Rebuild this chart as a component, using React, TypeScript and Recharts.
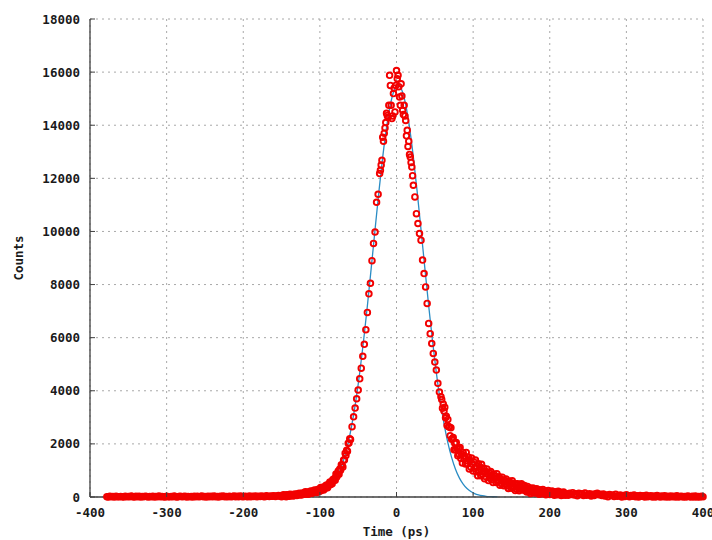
import { ComposedChart, Scatter, Line, XAxis, YAxis, CartesianGrid } from "recharts";

// measured histogram, split into regions (time in ps, counts per bin)
const baseTimes = [
  -378, -376, -374, -372, -370, -368, -366, -364, -362, -360, -358, -356, -354, -352, -350, -348, -346, -344, -342, -340,
  -338, -336, -334, -332, -330, -328, -326, -324, -322, -320, -318, -316, -314, -312, -310, -308, -306, -304, -302, -300,
  -298, -296, -294, -292, -290, -288, -286, -284, -282, -280, -278, -276, -274, -272, -270, -268, -266, -264, -262, -260,
  -258, -256, -254, -252, -250, -248, -246, -244, -242, -240, -238, -236, -234, -232, -230, -228, -226, -224, -222, -220,
  -218, -216, -214, -212, -210, -208, -206, -204, -202, -200, -198, -196, -194, -192, -190, -188, -186, -184, -182, -180,
  -178, -176, -174, -172, -170, -168, -166, -164, -162, -160, -158, -156, -154, -152,
];
const baseCounts = [
  12, 3, 25, 8, 17, 0, 30, 11, 5, 22, 14, 2, 27, 9, 19, 6, 33, 13, 1, 24,
  10, 28, 4, 18, 7, 31, 15, 0, 21, 12, 26, 3, 16, 9, 34, 6, 20, 11, 2, 29,
  14, 5, 23, 8, 36, 12, 1, 19, 27, 7, 15, 32, 4, 22, 10, 17, 3, 28, 13, 25,
  6, 20, 35, 9, 16, 2, 30, 14, 24, 7, 38, 11, 19, 4, 27, 15, 33, 8, 22, 13,
  29, 5, 18, 40, 12, 25, 9, 34, 17, 6, 31, 21, 14, 37, 10, 26, 19, 42, 8, 28,
  16, 35, 22, 11, 44, 27, 18, 39, 25, 48, 20, 33, 52, 29,
];

const footTimes = [
  -151, -150, -149, -148, -147, -146, -145, -144, -143, -142, -141, -140, -139, -138, -137, -136, -135, -134, -133, -132,
  -131, -130, -129, -128, -127, -126, -125, -124, -123, -122, -121, -120, -119, -118, -117, -116, -115, -114, -113, -112,
  -111, -110, -109, -108, -107, -106, -105, -104, -103, -102, -101, -100, -99, -98, -97, -96, -95, -94, -93, -92,
  -91, -90, -89, -88, -87, -86, -85, -84, -83, -82, -81, -80, -79, -78, -77, -76, -75, -74, -73, -72,
  -71, -70, -69, -68, -67, -66, -65, -64, -63, -62, -61, -60,
];
const footCounts = [
  44, 10, 64, 33, 83, 25, 59, 13, 83, 52, 74, 32, 103, 50, 69, 96, 39, 90, 61, 116,
  91, 58, 114, 86, 138, 82, 118, 74, 146, 118, 142, 102, 195, 117, 146, 188, 103, 181, 138, 222,
  185, 137, 223, 182, 262, 179, 235, 170, 280, 239, 277, 218, 355, 258, 305, 368, 263, 374, 325, 444,
  403, 346, 478, 442, 566, 474, 566, 498, 662, 626, 694, 634, 864, 750, 852, 978, 852, 1050, 1008, 1218,
  1188, 1134, 1392, 1398, 1644, 1566, 1764, 1722, 2028, 2034, 2196, 2166,
];

const slopeTimes = [-58, -56, -54, -52, -50, -48, -46, -44, -42, -40, -38, -36, -34, -32, -30, -28, -26, -24, -22];
const slopeCounts = [
  2650, 3020, 3350, 3700, 4030, 4450, 4850, 5300, 5750, 6300, 6950, 7650, 8050, 8900, 9550, 9980, 11100, 11400, 12180,
];

const peakTimes = [
  -21, -20, -19, -18, -17, -16, -15, -14, -13, -12, -11, -10, -9, -8, -7, -6, -5, -4, -3, -2,
  -1, 0, 1, 2, 3, 4, 5, 6, 7, 8, 9, 10, 11, 12, 13, 14, 15, 16, 17, 18,
  19, 20, 21,
];
const peakCounts = [
  12300, 12500, 12680, 13550, 13400, 13700, 13900, 14100, 14450, 14370, 14300, 14750, 15880, 15500, 14750, 14250, 14350, 15190, 15400, 14500,
  15500, 16060, 15750, 15880, 15450, 15060, 14750, 15560, 15100, 14560, 14400, 14750, 14350, 14180, 13600, 13810, 13200, 13400, 12900, 12800,
  12600, 12430, 12100,
];

const fallTimes = [22, 24, 26, 28, 30, 32, 34, 36, 38, 40, 42, 44, 46, 48, 50, 52, 54, 56, 58];
const fallCounts = [
  11740, 11300, 10670, 10300, 9920, 9670, 8920, 8415, 7910, 7290, 6535, 6150, 5780, 5405, 5080, 4780, 4280, 3950, 3775,
];

const tailTimes = [
  59, 60, 61, 62, 63, 64, 65, 66, 67, 68, 69, 70, 71, 72, 73, 74, 75, 76, 77, 78,
  79, 80, 81, 82, 83, 84, 85, 86, 87, 88, 89, 90, 91, 92, 93, 94, 95, 96, 97, 98,
  99, 100, 101, 102, 103, 104, 105, 106, 107, 108, 109, 110, 111, 112, 113, 114, 115, 116, 117, 118,
  119, 120, 121, 122, 123, 124, 125, 126, 127, 128, 129, 130, 131, 132, 133, 134, 135, 136, 137, 138,
  139, 140, 141, 142, 143, 144, 145, 146, 147, 148, 149, 150, 151, 152, 153, 154, 155, 156, 157, 158,
  159, 160, 161, 162, 163, 164, 165, 166, 167, 168, 169, 170, 171, 172, 173, 174, 175, 176, 177, 178,
  179, 180, 181, 182, 183, 184, 185, 186, 187, 188, 189, 190, 191, 192, 193, 194, 195, 196, 197, 198,
  199, 200, 201, 202, 203, 204, 205, 206, 207, 208, 209, 210, 211, 212, 213, 214, 215, 216, 217, 218,
  219, 220,
];
const tailCounts = [
  3670, 3340, 3500, 3240, 3380, 2980, 3040, 2690, 2920, 2650, 2640, 2310, 2610, 2170, 2180, 2240, 1775, 2025, 1775, 2050,
  1825, 1550, 1837, 1599, 1861, 1448, 1610, 1282, 1679, 1451, 1548, 1245, 1678, 1264, 1354, 1500, 1058, 1372, 1126, 1468,
  1250, 976, 1320, 1076, 1392, 952, 1156, 800, 1256, 1012, 1132, 804, 1232, 864, 946, 1078, 685, 967, 749, 1056,
  863, 620, 907, 734, 961, 648, 795, 542, 869, 696, 783, 550, 877, 584, 651, 758, 445, 672, 499, 746,
  590, 424, 634, 487, 680, 414, 539, 324, 602, 455, 529, 331, 609, 360, 417, 508, 242, 435, 288, 498,
  364, 236, 398, 288, 497, 316, 433, 251, 435, 275, 333, 184, 400, 214, 261, 335, 135, 287, 178, 343,
  244, 150, 276, 192, 308, 154, 230, 106, 272, 188, 234, 120, 287, 144, 181, 238, 85, 202, 119, 246,
  171, 96, 198, 132, 226, 103, 165, 67, 201, 134, 172, 82, 216, 102, 133, 179, 57, 151, 85, 188,
  128, 69,
];

const farTimes = [
  222, 224, 226, 228, 230, 232, 234, 236, 238, 240, 242, 244, 246, 248, 250, 252, 254, 256, 258, 260,
  262, 264, 266, 268, 270, 272, 274, 276, 278, 280, 282, 284, 286, 288, 290, 292, 294, 296, 298, 300,
  302, 304, 306, 308, 310, 312, 314, 316, 318, 320, 322, 324, 326, 328, 330, 332, 334, 336, 338, 340,
  342, 344, 346, 348, 350, 352, 354, 356, 358, 360, 362, 364, 366, 368, 370, 372, 374, 376, 378, 380,
  382, 384, 386, 388, 390, 392, 394, 396, 398, 400,
];
const farCounts = [
  124, 68, 144, 94, 164, 72, 118, 44, 144, 94, 120, 57, 149, 70, 90, 121, 36, 101, 54, 124,
  143, 86, 99, 57, 115, 38, 76, 14, 97, 55, 78, 21, 104, 32, 50, 78, 1, 59, 18, 82,
  45, 8, 59, 26, 73, 12, 43, 0, 61, 28, 47, 2, 69, 12, 27, 50, 0, 36, 3, 55,
  25, 0, 36, 12, 47, 1, 25, 0, 39, 14, 29, 0, 46, 3, 15, 32, 0, 22, 0, 36,
  15, 0, 24, 3, 34, 0, 15, 0, 28, 7,
];

// gaussian fit curve
const fitTimes = [
  -128, -123, -118, -113, -108, -103, -98, -93, -88, -83, -78, -73, -68, -63, -58, -53, -48, -43, -38, -33,
  -28, -23, -18, -13, -8, -3, 2, 7, 12, 17, 22, 27, 32, 37, 42, 47, 52, 57, 62, 67,
  72, 77, 82, 87, 92, 97, 102, 107, 112, 117, 122, 127, 132,
];
const fitCounts = [
  5, 9, 16, 27, 47, 79, 129, 205, 319, 486, 721, 1046, 1481, 2046, 2761, 3636, 4678, 5873, 7200, 8617,
  10070, 11489, 12797, 13916, 14775, 15316, 15500, 15316, 14775, 13916, 12797, 11489, 10070, 8617, 7200, 5873, 4678, 3636, 2761, 2046,
  1481, 1046, 721, 486, 319, 205, 129, 79, 47, 27, 16, 9, 5,
];

const timeTicks = [-400, -300, -200, -100, 0, 100, 200, 300, 400];
const countTicks = [0, 2000, 4000, 6000, 8000, 10000, 12000, 14000, 16000, 18000];

const zip = (ts: number[], cs: number[]) => ts.map((t, i) => ({ t, c: cs[i] }));

const measured = [
  ...zip(baseTimes, baseCounts),
  ...zip(footTimes, footCounts),
  ...zip(slopeTimes, slopeCounts),
  ...zip(peakTimes, peakCounts),
  ...zip(fallTimes, fallCounts),
  ...zip(tailTimes, tailCounts),
  ...zip(farTimes, farCounts),
];
const fit = zip(fitTimes, fitCounts);

const FRAME = "#404040";
const GRID = "#a8a8a8";
const FONT = {
  fontFamily: "DejaVu Sans Mono",
  fontWeight: 700,
  fontSize: 12.5,
  fill: "#1a1a1a",
};
const TICK_LEN = 5;

const BottomTick = ({ x, y, payload }: any) => (
  <g>
    <line x1={x} x2={x} y1={y} y2={y - TICK_LEN} stroke={FRAME} />
    <text x={x} y={y + 20} textAnchor="middle" style={FONT}>
      {payload.value}
    </text>
  </g>
);

const TopTick = ({ x, y }: any) => (
  <line x1={x} x2={x} y1={y} y2={y + TICK_LEN} stroke={FRAME} />
);

const LeftTick = ({ x, y, payload }: any) => (
  <g>
    <line x1={x} x2={x + TICK_LEN} y1={y} y2={y} stroke={FRAME} />
    <text x={x - 10} y={y + 4.5} textAnchor="end" style={FONT}>
      {payload.value}
    </text>
  </g>
);

const RightTick = ({ x, y }: any) => (
  <line x1={x} x2={x - TICK_LEN} y1={y} y2={y} stroke={FRAME} />
);

const Ring = ({ cx, cy }: any) => (
  <circle cx={cx} cy={cy} r={2.8} fill="none" stroke="#f20000" strokeWidth={1.9} />
);

export default function App() {
  return (
    <div style={{ position: "absolute", left: 0, top: 0, background: "#fff" }}>
      <ComposedChart width={712} height={540} margin={{ top: 19, right: 9, bottom: 0, left: 0 }}>
        <CartesianGrid stroke={GRID} strokeDasharray="2 4" />
        <XAxis
          dataKey="t"
          type="number"
          domain={[-400, 400]}
          ticks={timeTicks}
          interval={0}
          height={43}
          tickSize={0}
          tickMargin={0}
          tickLine={false}
          axisLine={{ stroke: FRAME, strokeWidth: 1.3 }}
          tick={<BottomTick />}
          label={{ value: "Time (ps)", position: "insideBottom", offset: 4, style: FONT }}
        />
        <XAxis
          xAxisId="top"
          orientation="top"
          dataKey="t"
          type="number"
          domain={[-400, 400]}
          ticks={timeTicks}
          interval={0}
          height={0}
          tickSize={0}
          tickMargin={0}
          tickLine={false}
          axisLine={{ stroke: FRAME, strokeWidth: 1.3 }}
          tick={<TopTick />}
        />
        <YAxis
          dataKey="c"
          type="number"
          domain={[0, 18000]}
          ticks={countTicks}
          interval={0}
          width={90}
          tickSize={0}
          tickMargin={0}
          tickLine={false}
          axisLine={{ stroke: FRAME, strokeWidth: 1.3 }}
          tick={<LeftTick />}
          label={{
            value: "Counts",
            angle: -90,
            position: "insideLeft",
            offset: 19,
            style: { ...FONT, textAnchor: "middle" },
          }}
        />
        <YAxis
          yAxisId="right"
          orientation="right"
          dataKey="c"
          type="number"
          domain={[0, 18000]}
          ticks={countTicks}
          interval={0}
          width={0}
          tickSize={0}
          tickMargin={0}
          tickLine={false}
          axisLine={{ stroke: FRAME, strokeWidth: 1.3 }}
          tick={<RightTick />}
        />
        <Scatter data={measured} dataKey="c" shape={<Ring />} isAnimationActive={false} />
        <Line
          data={fit}
          dataKey="c"
          xAxisId="top"
          yAxisId="right"
          type="monotone"
          stroke="#2a8cc4"
          strokeWidth={1.3}
          dot={false}
          activeDot={false}
          isAnimationActive={false}
        />
      </ComposedChart>
    </div>
  );
}
